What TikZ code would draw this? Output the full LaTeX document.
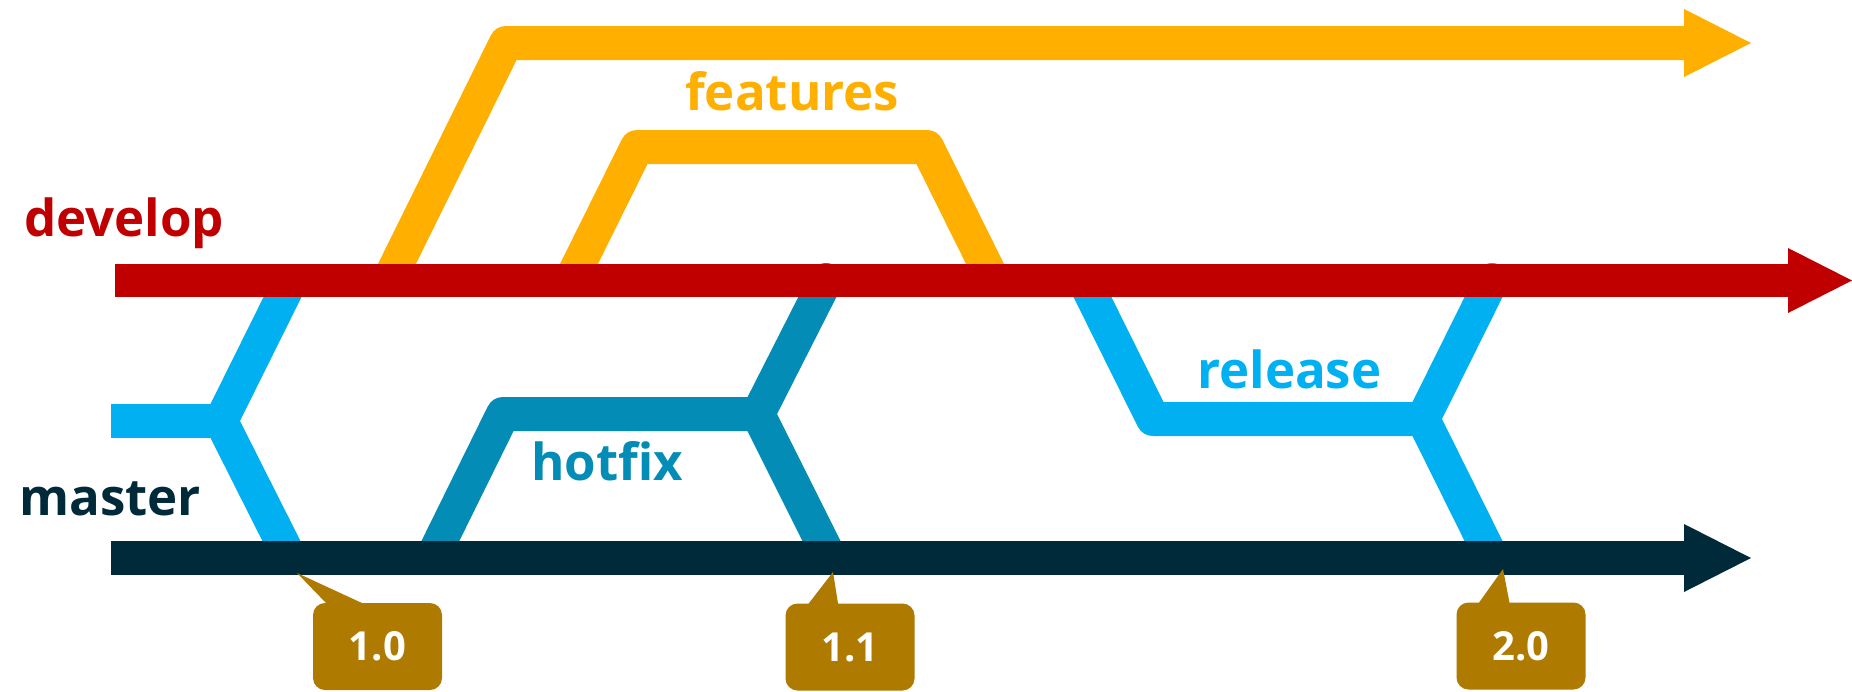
\documentclass[tikz,border=0pt]{standalone}
\usepackage{fontspec}
\setmainfont{Open Sans}
\usetikzlibrary{calc}
\definecolor{featcol}{HTML}{FFAF00}
\definecolor{devcol}{HTML}{C00000}
\definecolor{relcol}{HTML}{00B0F0}
\definecolor{hotcol}{HTML}{038CB5}
\definecolor{mastcol}{HTML}{00293A}
\definecolor{tagcol}{HTML}{AE7A00}
\begin{document}
\begin{tikzpicture}[x=1pt,y=-1pt,
  branch/.style={line width=34pt, line cap=round, line join=round},
  vjoin/.style={line width=34pt, line cap=butt, line join=miter},
  lbl/.style={anchor=base west, inner sep=0pt, font=\fontsize{51}{60}\selectfont\bfseries},
  tagbox/.style={fill=tagcol, rounded corners=12pt, minimum width=129pt, minimum height=87pt, inner sep=0pt, text=white, font=\fontsize{40}{48}\selectfont\bfseries}]
\useasboundingbox (0,0) rectangle (1852,691);

% ---- coordinates
\coordinate (f1a) at (389,280);  \coordinate (f1b) at (506,43);  \coordinate (f1c) at (1688,43);
\coordinate (f2a) at (571,280);  \coordinate (f2b) at (637,147); \coordinate (f2c) at (927,147); \coordinate (f2d) at (993,280);
\coordinate (r0) at (111,421);   \coordinate (rj1) at (221,421); \coordinate (rj1u) at (291,280); \coordinate (rj1d) at (290,558);
\coordinate (r2a) at (1084,280); \coordinate (r2b) at (1153,419); \coordinate (rj2) at (1423,419);
\coordinate (rj2u) at (1492,280); \coordinate (rj2d) at (1492,558);
\coordinate (h0) at (432,558);   \coordinate (h1) at (503,414);  \coordinate (hj) at (758,414);
\coordinate (hju) at (826,280);  \coordinate (hjd) at (830,558);

% ---- features
\draw[branch, featcol, line cap=butt] (f1a) -- (f1b) -- (f1c);
\fill[featcol] (f1a) circle (17pt);
\fill[featcol] (1684,9) -- (1751,43) -- (1684,77) -- cycle;
\draw[branch, featcol] (f2a) -- (f2b) -- (f2c) -- (f2d);

% ---- release
\draw[branch, relcol, line cap=butt] (r0) -- (rj1);
\draw[vjoin, relcol] (rj1u) -- (rj1) -- (rj1d);
\draw[branch, relcol, line cap=butt] (r2a) -- (r2b) -- (rj2);
\draw[vjoin, relcol] (rj2u) -- (rj2) -- (rj2d);
\fill[relcol] (rj2u) circle (17pt);

% ---- hotfix
\draw[branch, hotcol] (h0) -- (h1) -- (hj);
\draw[vjoin, hotcol] (hju) -- (hj) -- (hjd);
\fill[hotcol] (hju) circle (17pt);

% ---- develop
\fill[devcol] (115,264) rectangle (1789,297);
\fill[devcol] (1788,248) -- (1852,280.5) -- (1788,313) -- cycle;

% ---- master
\fill[mastcol] (111,541) rectangle (1685,575);
\fill[mastcol] (1684,524) -- (1751,558) -- (1684,592) -- cycle;

% ---- labels
\node[lbl, text=devcol] (ldev) at (24,236) {develop};
\node[lbl, text=mastcol] (lmast) at (19,515) {master};
\node[lbl, text=featcol] (lfeat) at (685,110) {features};
\node[lbl, text=hotcol] (lhot) at (531,480) {hotfix};
\node[lbl, text=relcol] (lrel) at (1197,388) {release};

% ---- tags
\node[tagbox] (t1) at (377.5,646.5) {1.0};
\node[tagbox] (t2) at (850,647) {1.1};
\node[tagbox] (t3) at (1521,646) {2.0};
\coordinate (p1) at (297,573);
\coordinate (p2) at (833,572);
\coordinate (p3) at (1503,569);
\fill[tagcol] (p1) -- ($(t1.north west)+(15,2)$) -- ($(t1.north west)+(53,2)$) -- cycle;
\fill[tagcol] (p2) -- ($(t2.north west)+(22,2)$) -- ($(t2.north west)+(53,2)$) -- cycle;
\fill[tagcol] (p3) -- ($(t3.north west)+(21.5,2)$) -- ($(t3.north west)+(53.5,2)$) -- cycle;
\end{tikzpicture}
\end{document}
